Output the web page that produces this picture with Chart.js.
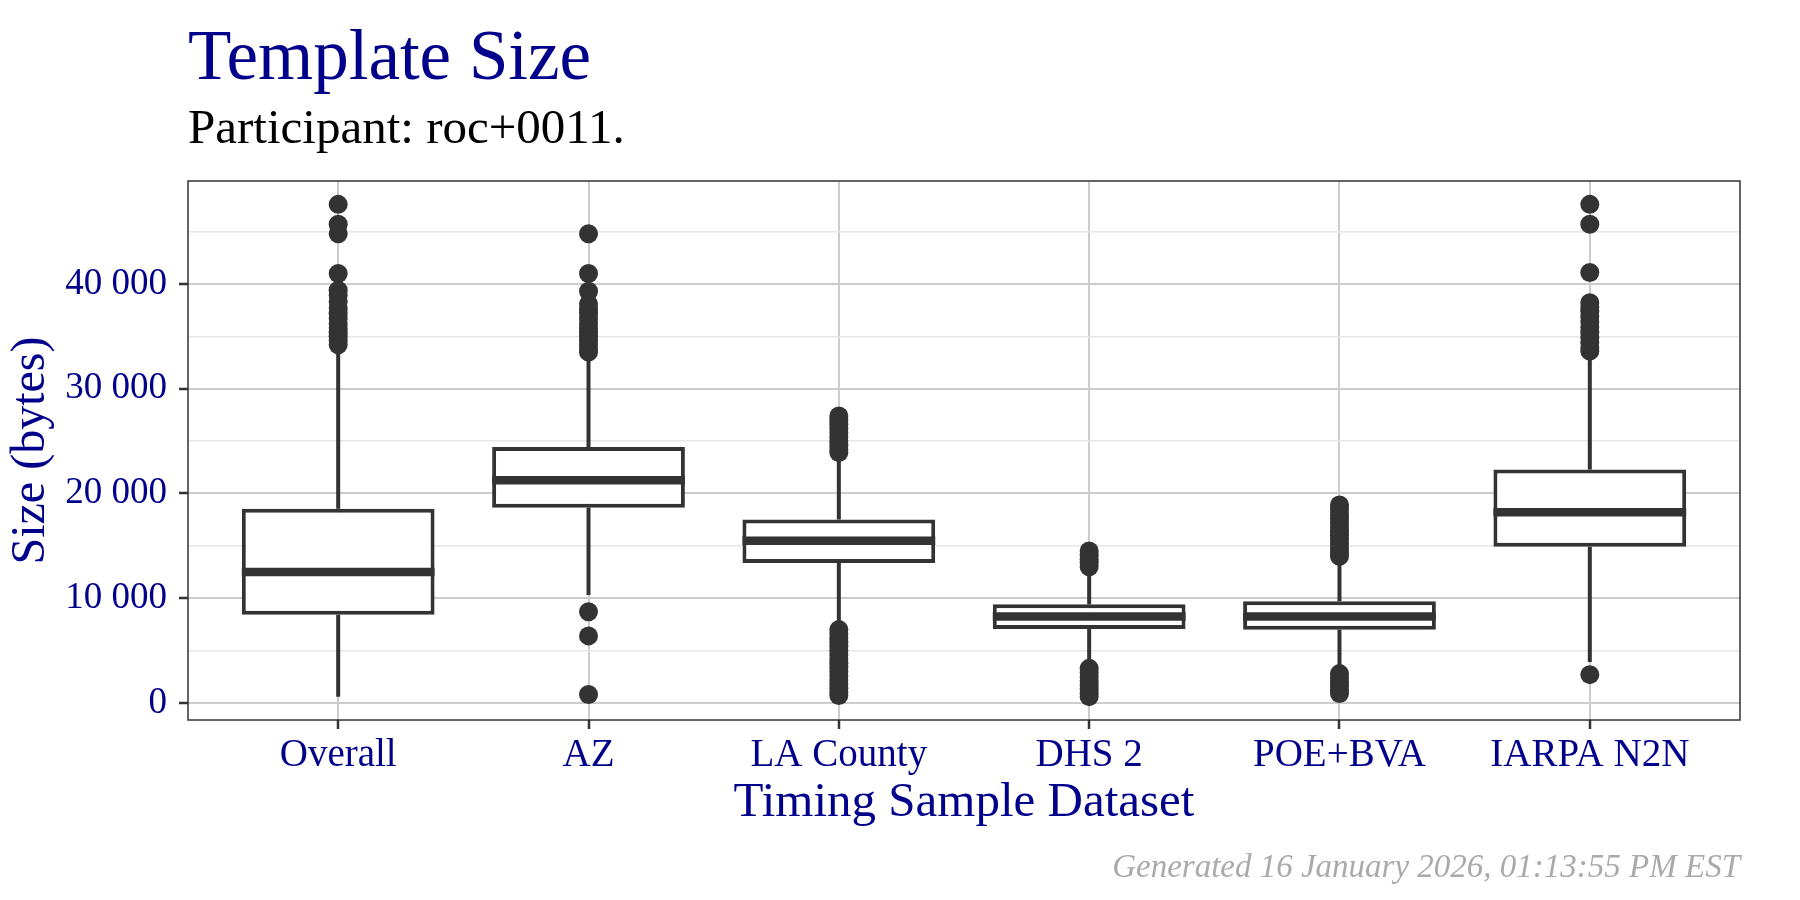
<!DOCTYPE html>
<html>
<head>
<meta charset="utf-8">
<script src="https://cdn.jsdelivr.net/npm/chart.js@4.4.1/dist/chart.umd.min.js"></script>
<style>
  html, body { margin: 0; padding: 0; background: #fff; }
  #wrap { width: 1800px; height: 900px; }
</style>
</head>
<body>
<div id="wrap"><canvas id="chart" width="1800" height="900"></canvas></div>
<script>
// data (bytes)
const categories = ['Overall', 'AZ', 'LA County', 'DHS 2', 'POE+BVA', 'IARPA N2N'];
const whiskerLow = [580, 10300, 7300, 3700, 3300, 3900];
const q1 = [8430, 18640, 13360, 7060, 6990, 14900];
const median = [12510, 21270, 15480, 8250, 8250, 18210];
const q3 = [18540, 24440, 17520, 9410, 9710, 22290];
const whiskerHigh = [33600, 33000, 23600, 12500, 13500, 33200];
const outliers = [
  [47600, 45700, 44800, 41000, 39400, 38900, 38300, 37700, 37200, 36700, 36200, 35800, 35400, 35000, 34600, 34200],
  [44800, 41000, 39300, 38100, 37600, 37200, 36700, 36200, 35800, 35400, 35000, 34600, 34200, 33800, 33500, 8700, 6400, 800],
  [27400, 27000, 26600, 26200, 25800, 25400, 25000, 24600, 24200, 23900,
   7000, 6600, 6200, 5800, 5400, 5000, 4600, 4200, 3800, 3400, 3000, 2600, 2200, 1800, 1400, 1000, 700],
  [14500, 14100, 13700, 13400, 13000, 3300, 2900, 2500, 2100, 1700, 1300, 900, 600],
  [18900, 18500, 18000, 17600, 17200, 16800, 16400, 16000, 15600, 15200, 14800, 14400, 14000,
   2800, 2400, 2000, 1600, 1200, 900],
  [47600, 45700, 41100, 38200, 37800, 37400, 36900, 36400, 35900, 35400, 34900, 34400, 33900, 33600, 2700]
];
const yTicks = [0, 5000, 10000, 15000, 20000, 25000, 30000, 35000, 40000, 45000];

const BLUE = '#00008B';
const INK = '#333333';
const FONT = "'Liberation Serif', 'Times New Roman', serif";

const fmt = v => String(v).replace(/\B(?=(\d{3})+(?!\d))/g, ' ');

// whiskers, medians, panel border and the text around the plot
const boxExtras = {
  id: 'boxExtras',
  afterDatasetsDraw(chart) {
    const { ctx, scales: { x, y }, chartArea } = chart;
    const bars = chart.getDatasetMeta(0).data;
    ctx.save();
    ctx.strokeStyle = INK;
    ctx.lineCap = 'butt';
    categories.forEach((c, i) => {
      const px = x.getPixelForValue(i + 1);
      const half = bars[i].width / 2;
      ctx.lineWidth = 4;
      ctx.beginPath();
      ctx.moveTo(px, y.getPixelForValue(q3[i]));
      ctx.lineTo(px, y.getPixelForValue(whiskerHigh[i]));
      ctx.moveTo(px, y.getPixelForValue(q1[i]));
      ctx.lineTo(px, y.getPixelForValue(whiskerLow[i]));
      ctx.stroke();
      const ym = y.getPixelForValue(median[i]);
      ctx.lineWidth = 8.5;
      ctx.beginPath();
      ctx.moveTo(px - half, ym);
      ctx.lineTo(px + half, ym);
      ctx.stroke();
    });
    ctx.lineWidth = 1.5;
    ctx.strokeRect(chartArea.left, chartArea.top, chartArea.width, chartArea.height);
    ctx.restore();
  },
  afterDraw(chart) {
    const { ctx, chartArea } = chart;
    ctx.save();
    ctx.textBaseline = 'alphabetic';
    ctx.textAlign = 'left';
    ctx.fillStyle = BLUE;
    ctx.font = '71px ' + FONT;
    ctx.fillText('Template Size', chartArea.left, 79);
    ctx.fillStyle = '#000000';
    ctx.font = '49px ' + FONT;
    ctx.fillText('Participant: roc+0011.', chartArea.left, 143);
    ctx.fillStyle = '#aaaaaa';
    ctx.font = 'italic 33px ' + FONT;
    ctx.textAlign = 'right';
    ctx.fillText('Generated 16 January 2026, 01:13:55 PM EST', chartArea.right, 877);
    ctx.restore();
  }
};

new Chart(document.getElementById('chart'), {
  type: 'bar',
  data: {
    datasets: [
      {
        type: 'bar',
        data: categories.map((c, i) => ({ x: i + 1, y: [q1[i], q3[i]] })),
        backgroundColor: '#ffffff',
        borderColor: INK,
        borderWidth: 4,
        borderSkipped: false,
        barPercentage: 0.77,
        categoryPercentage: 1
      },
      {
        type: 'scatter',
        data: outliers.flatMap((vals, i) => vals.map(v => ({ x: i + 1, y: v }))),
        pointRadius: 9.5,
        pointBackgroundColor: INK,
        pointBorderWidth: 0
      }
    ]
  },
  options: {
    responsive: false,
    animation: false,
    layout: { padding: { top: 181, right: 60, left: 0, bottom: 0 } },
    plugins: { legend: { display: false }, tooltip: { enabled: false } },
    scales: {
      x: {
        type: 'linear',
        min: 0.4,
        max: 6.6,
        offset: false,
        afterBuildTicks: axis => { axis.ticks = categories.map((c, i) => ({ value: i + 1 })); },
        afterFit: axis => { axis.height = 180; },
        grid: { offset: false, color: '#cccccc', lineWidth: 2, tickColor: INK, tickLength: 9, tickWidth: 2.5 },
        border: { display: false },
        ticks: {
          autoSkip: false, maxRotation: 0, padding: 3,
          color: BLUE, font: { family: FONT, size: 39 },
          callback: v => categories[v - 1]
        },
        title: {
          display: true, text: 'Timing Sample Dataset', color: BLUE,
          font: { family: FONT, size: 49 }, padding: { top: 0, bottom: 67 }
        }
      },
      y: {
        min: -1630,
        max: 49830,
        afterBuildTicks: axis => { axis.ticks = yTicks.map(v => ({ value: v })); },
        afterFit: axis => { axis.width = 188; },
        grid: {
          color: c => (c.tick && c.tick.value % 10000 === 0) ? '#cccccc' : '#e6e6e6',
          lineWidth: c => (c.tick && c.tick.value % 10000 === 0) ? 2 : 1.5,
          tickColor: c => (c.tick && c.tick.value % 10000 === 0) ? INK : 'rgba(0,0,0,0)',
          tickLength: 9,
          tickWidth: 2.5
        },
        border: { display: false },
        ticks: {
          autoSkip: false, padding: 12,
          color: BLUE, font: { family: FONT, size: 37 },
          callback: v => (v % 10000 === 0) ? fmt(v) : ''
        },
        title: {
          display: true, text: 'Size (bytes)', color: BLUE,
          font: { family: FONT, size: 48 }, padding: { top: 3, bottom: 0 }
        }
      }
    }
  },
  plugins: [boxExtras]
});
</script>
</body>
</html>
